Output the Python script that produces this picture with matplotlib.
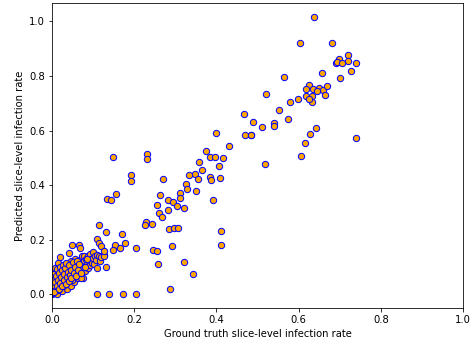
import matplotlib
matplotlib.use("Agg")
import matplotlib.pyplot as plt
import numpy as np

# ground truth vs predicted slice-level infection rate
truth_main = [
    0.638, 0.604, 0.681, 0.721, 0.699, 0.721, 0.691, 0.694, 0.706, 0.740,
    0.728, 0.658, 0.701, 0.564, 0.521, 0.625, 0.618, 0.636, 0.649, 0.659,
    0.670, 0.644, 0.617, 0.633, 0.663, 0.633, 0.625, 0.598, 0.578, 0.552,
    0.575, 0.488, 0.541, 0.541, 0.511, 0.484, 0.642, 0.628, 0.616, 0.605,
    0.740, 0.518, 0.466, 0.470, 0.483, 0.400, 0.431, 0.375, 0.384, 0.396,
    0.415, 0.357, 0.406, 0.364, 0.348, 0.333, 0.354, 0.384, 0.386, 0.409,
    0.327, 0.329, 0.350, 0.311, 0.311, 0.262, 0.282, 0.293, 0.303, 0.255,
    0.322, 0.392, 0.281, 0.261, 0.268, 0.228, 0.225, 0.243, 0.285, 0.297,
    0.307, 0.410, 0.411, 0.292, 0.245, 0.256, 0.258, 0.321, 0.343, 0.287,
    0.230, 0.230, 0.148, 0.191, 0.191, 0.269, 0.133, 0.144, 0.155, 0.113,
    0.131, 0.170, 0.109, 0.115, 0.119, 0.153, 0.148, 0.165, 0.177, 0.203,
    0.127, 0.131, 0.108, 0.138, 0.172, 0.205, 0.048, 0.066, 0.068, 0.041,
]
pred_main = [
    1.017, 0.921, 0.922, 0.877, 0.862, 0.856, 0.846, 0.852, 0.848, 0.849,
    0.817, 0.810, 0.792, 0.796, 0.733, 0.768, 0.754, 0.754, 0.757, 0.748,
    0.763, 0.745, 0.726, 0.727, 0.731, 0.705, 0.716, 0.714, 0.706, 0.674,
    0.642, 0.633, 0.627, 0.618, 0.612, 0.583, 0.611, 0.587, 0.554, 0.507,
    0.572, 0.478, 0.659, 0.585, 0.582, 0.592, 0.545, 0.524, 0.504, 0.502,
    0.501, 0.483, 0.470, 0.456, 0.442, 0.437, 0.424, 0.431, 0.419, 0.426,
    0.404, 0.385, 0.380, 0.371, 0.353, 0.362, 0.346, 0.337, 0.325, 0.328,
    0.317, 0.345, 0.307, 0.296, 0.284, 0.265, 0.255, 0.258, 0.240, 0.243,
    0.243, 0.233, 0.182, 0.176, 0.162, 0.157, 0.109, 0.118, 0.072, 0.019,
    0.514, 0.496, 0.502, 0.436, 0.414, 0.424, 0.349, 0.346, 0.367, 0.252,
    0.228, 0.222, 0.202, 0.186, 0.177, 0.182, 0.161, 0.170, 0.188, 0.168,
    0.144, 0.098, 0.000, 0.000, 0.000, 0.000, 0.182, 0.182, 0.168, 0.150,
]

# dense cluster of low-infection slices near the origin
truth_low = [
    0.000, 0.002, 0.004, 0.005, 0.006, 0.007, 0.008, 0.003, 0.010, 0.010,
    0.011, 0.012, 0.013, 0.015, 0.015, 0.016, 0.018, 0.019, 0.020, 0.021,
    0.022, 0.024, 0.025, 0.026, 0.028, 0.030, 0.030, 0.032, 0.033, 0.035,
    0.035, 0.037, 0.038, 0.040, 0.042, 0.043, 0.044, 0.045, 0.046, 0.047,
    0.049, 0.050, 0.052, 0.053, 0.054, 0.055, 0.056, 0.058, 0.060, 0.060,
    0.062, 0.063, 0.065, 0.067, 0.068, 0.070, 0.072, 0.073, 0.075, 0.076,
    0.077, 0.078, 0.080, 0.082, 0.083, 0.085, 0.087, 0.088, 0.090, 0.092,
    0.093, 0.095, 0.097, 0.100, 0.100, 0.102, 0.104, 0.106, 0.108, 0.110,
    0.113, 0.116, 0.120, 0.127, 0.125, 0.001, 0.004, 0.009, 0.014, 0.023,
    0.027, 0.031, 0.036, 0.039, 0.048, 0.057, 0.064, 0.071, 0.079, 0.086,
    0.000, 0.000, 0.001, 0.002, 0.003, 0.005, 0.006, 0.008, 0.009, 0.011,
    0.012, 0.014, 0.016, 0.017, 0.018, 0.020, 0.022, 0.023, 0.025, 0.026,
    0.028, 0.029, 0.031, 0.033, 0.034, 0.036, 0.038, 0.040, 0.041, 0.043,
    0.045, 0.047, 0.050, 0.052, 0.055, 0.058, 0.061, 0.064, 0.066, 0.069,
]
pred_low = [
    0.000, 0.005, 0.012, 0.030, 0.050, 0.065, 0.080, 0.070, 0.020, 0.055,
    0.082, 0.000, 0.040, 0.090, 0.113, 0.060, 0.025, 0.075, 0.138, 0.045,
    0.095, 0.010, 0.065, 0.085, 0.105, 0.035, 0.075, 0.055, 0.100, 0.020,
    0.088, 0.070, 0.110, 0.045, 0.095, 0.060, 0.057, 0.080, 0.030, 0.120,
    0.100, 0.070, 0.088, 0.110, 0.045, 0.130, 0.095, 0.075, 0.082, 0.105,
    0.115, 0.060, 0.090, 0.125, 0.100, 0.080, 0.110, 0.140, 0.095, 0.059,
    0.141, 0.120, 0.085, 0.105, 0.130, 0.110, 0.095, 0.140, 0.120, 0.148,
    0.105, 0.130, 0.115, 0.154, 0.131, 0.110, 0.140, 0.125, 0.095, 0.145,
    0.141, 0.120, 0.135, 0.141, 0.160, 0.040, 0.085, 0.035, 0.015, 0.050,
    0.030, 0.090, 0.062, 0.100, 0.050, 0.108, 0.072, 0.060, 0.098, 0.130,
    0.020, 0.060, 0.090, 0.035, 0.075, 0.008, 0.095, 0.045, 0.068, 0.030,
    0.092, 0.052, 0.018, 0.078, 0.100, 0.040, 0.062, 0.088, 0.028, 0.108,
    0.050, 0.072, 0.095, 0.038, 0.115, 0.062, 0.082, 0.048, 0.105, 0.070,
    0.090, 0.058, 0.118, 0.078, 0.100, 0.068, 0.122, 0.088, 0.110, 0.076,
]

truth = np.array(truth_main + truth_low)
pred = np.array(pred_main + pred_low)

fig = plt.figure(figsize=(470 / 72, 349 / 72), dpi=72)
ax = fig.add_axes([0.111, 0.1175, 0.874, 0.874])

ax.scatter(truth, pred, s=40, c="orange", edgecolors="blue", linewidths=1)
ax.set_xlim(0, 1.0)
ax.set_xlabel("Ground truth slice-level infection rate")
ax.set_ylabel("Predicted slice-level infection rate")

fig.savefig("out.png", dpi=72)
